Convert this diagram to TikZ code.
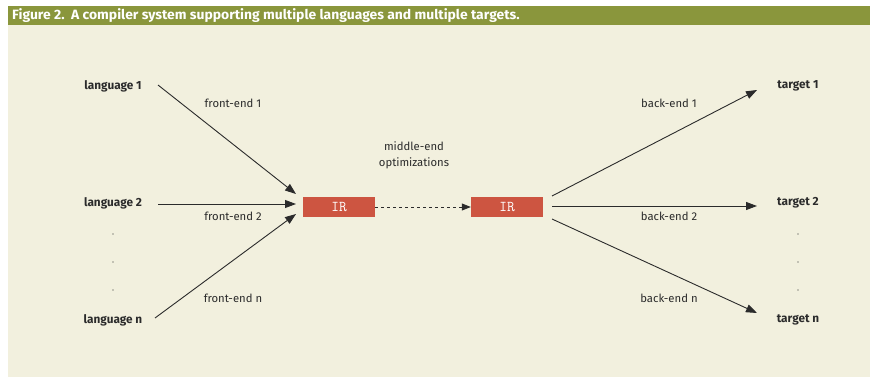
\documentclass[tikz,border=0pt]{standalone}
\usepackage{fontspec}
\setmainfont{Fira Sans}
\usetikzlibrary{arrows.meta}
\definecolor{hdr}{HTML}{8A963C}
\definecolor{panel}{HTML}{F2F0DE}
\definecolor{irc}{HTML}{CD5541}
\definecolor{ink}{HTML}{2B2B2B}
\begin{document}
\begin{tikzpicture}[x=1pt,y=-1pt,
  every node/.style={inner sep=0pt,text=ink},
  endpt/.style={font=\fontsize{11.8}{14}\selectfont\bfseries},
  lbl/.style={font=\fontsize{11.3}{16}\selectfont},
  irbox/.style={fill=irc,minimum width=72pt,minimum height=20pt,text=white,font=\fontsize{15}{16}\ttfamily},
  conn/.style={draw=ink,line width=0.9pt,-{Triangle[length=11pt,width=8pt]}},
  dconn/.style={draw=ink,line width=0.8pt,dashed,dash pattern=on 3pt off 3pt,-{Triangle[length=9pt,width=7pt]}},
  vdot/.style={circle,fill=ink,minimum size=1.3pt}]
\useasboundingbox (0,0) rectangle (870,377);
\fill[white] (0,0) rectangle (870,377);
\fill[panel] (8,6) rectangle (870,377);
\fill[hdr] (8,6) rectangle (870,25);
\node[anchor=west,text=white,font=\fontsize{13.5}{14}\selectfont\bfseries,xscale=1.03] (title) at (12,15.5) {Figure 2.\ \ A compiler system supporting multiple languages and multiple targets.};

% left endpoints
\node[endpt] (l1) at (113,86) {language 1};
\node[endpt] (l2) at (113,203) {language 2};
\node[endpt] (ln) at (113,320) {language n};
\node[vdot] (ld1) at (113,234) {};
\node[vdot] (ld2) at (113,262) {};
\node[vdot] (ld3) at (113,290) {};

% right endpoints
\node[endpt] (t1) at (798,86) {target 1};
\node[endpt] (t2) at (798,203) {target 2};
\node[endpt] (tn) at (798,320) {target n};
\node[vdot] (td1) at (798,234) {};
\node[vdot] (td2) at (798,262) {};
\node[vdot] (td3) at (798,290) {};

% IR boxes
\node[irbox] (ir1) at (339,207) {IR};
\node[irbox] (ir2) at (507,207) {IR};

\node[lbl,align=center] (mid) at (414,155) {middle-end\\optimizations};

% connector ends
\coordinate (a1s) at (158,85);
\coordinate (a1e) at (296,194);
\coordinate (a2s) at (158,204);
\coordinate (a2e) at (296,204);
\coordinate (ans) at (155,318);
\coordinate (ane) at (296,214);
\coordinate (b1s) at (552,196);
\coordinate (b1e) at (757,90);
\coordinate (b2s) at (552,206);
\coordinate (b2e) at (757,206);
\coordinate (bns) at (552,219);
\coordinate (bne) at (757,313);

\draw[conn] (a1s) -- (a1e);
\draw[conn] (a2s) -- (a2e);
\draw[conn] (ans) -- (ane);
\draw[conn] (b1s) -- (b1e);
\draw[conn] (b2s) -- (b2e);
\draw[conn] (bns) -- (bne);
\draw[dconn] (ir1.east) -- (ir2.west);

\node[lbl] (f1) at (233,103) {front-end 1};
\node[lbl] (f2) at (233,216) {front-end 2};
\node[lbl] (fn) at (233,298) {front-end n};
\node[lbl] (k1) at (669,103) {back-end 1};
\node[lbl] (k2) at (669,216) {back-end 2};
\node[lbl] (kn) at (669,298) {back-end n};
\end{tikzpicture}
\end{document}
